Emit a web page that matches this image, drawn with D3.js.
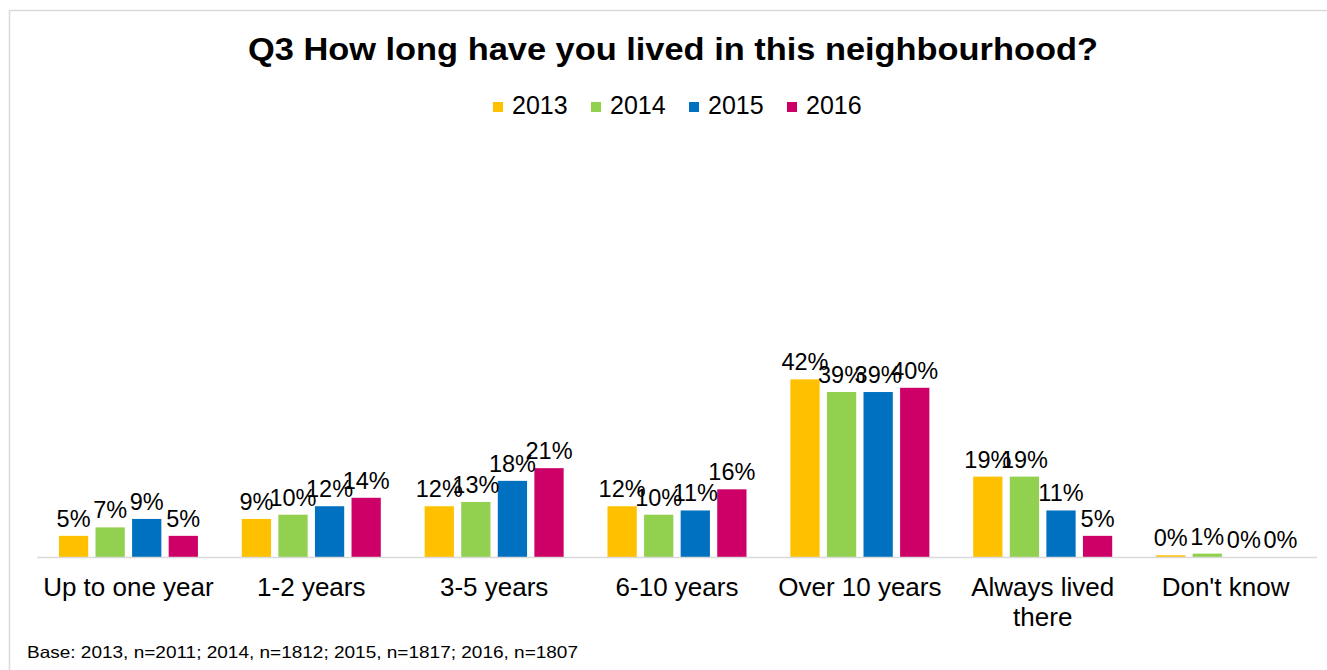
<!DOCTYPE html>
<html>
<head>
<meta charset="utf-8">
<script src="https://cdn.jsdelivr.net/npm/d3@7"></script>
<style>
  html, body { margin: 0; padding: 0; background: #fff; }
  svg { display: block; font-family: "Liberation Sans", Arial, sans-serif; }
</style>
</head>
<body>
<svg id="chart" width="1327" height="670"></svg>
<script>
const categories = ["Up to one year", "1-2 years", "3-5 years", "6-10 years", "Over 10 years", "Always lived there", "Don't know"];
const seriesNames = ["2013", "2014", "2015", "2016"];
const values2013 = [5, 9, 12, 12, 42, 19, 0.4];
const values2014 = [7, 10, 13, 10, 39, 19, 0.8];
const values2015 = [9, 12, 18, 11, 39, 11, 0];
const values2016 = [5, 14, 21, 16, 40, 5, 0];
const colors = ["#FFC000", "#92D050", "#0070C0", "#CC0066"];
const titleText = "Q3 How long have you lived in this neighbourhood?";
const footnote = "Base: 2013, n=2011; 2014, n=1812; 2015, n=1817; 2016, n=1807";

const seriesValues = [values2013, values2014, values2015, values2016];
const svg = d3.select("#chart");

// frame
svg.append("path").attr("d", "M9.5,670 V10.5 H1327").attr("fill", "none").attr("stroke", "#d9d9d9").attr("stroke-width", 1.5);

const left = 37, right = 1317, baseY = 557, topY = 134;
const x0 = d3.scaleBand().domain(categories).range([left, right]).padding(0);
const groupW = 139;
const x1 = d3.scaleBand().domain(seriesNames).range([0, groupW]).paddingInner(0.2).paddingOuter(0);
const y = d3.scaleLinear().domain([0, 100]).range([baseY, topY]);

// title
svg.append("text").attr("x", 248).attr("y", 60).attr("font-weight", "bold").attr("font-size", 31)
  .attr("textLength", 850).attr("lengthAdjust", "spacingAndGlyphs").attr("fill", "#000").text(titleText);

// legend
const legend = svg.append("g");
const legX0 = 493, legStep = 98;
seriesNames.forEach((s, i) => {
  const g = legend.append("g").attr("transform", `translate(${legX0 + i * legStep},0)`);
  g.append("rect").attr("x", 0).attr("y", 102).attr("width", 10).attr("height", 10).attr("fill", colors[i]);
  g.append("text").attr("x", 19).attr("y", 114).attr("font-size", 25).attr("fill", "#000").text(s);
});

// bars
const groups = svg.append("g").selectAll("g").data(categories).join("g")
  .attr("transform", d => `translate(${x0(d) + (x0.bandwidth() - groupW) / 2},0)`);

groups.each(function(cat, ci) {
  const g = d3.select(this);
  const data = seriesNames.map((s, si) => ({ s, si, v: seriesValues[si][ci] }));
  g.selectAll("rect").data(data).join("rect")
    .attr("x", d => x1(d.s)).attr("width", x1.bandwidth())
    .attr("y", d => y(d.v)).attr("height", d => baseY - y(d.v))
    .attr("fill", d => colors[d.si]);
  g.selectAll("text").data(data).join("text")
    .attr("x", d => x1(d.s) + x1.bandwidth() / 2)
    .attr("y", d => y(d.v) - 9)
    .attr("text-anchor", "middle").attr("font-size", 23.5).attr("fill", "#000")
    .text(d => Math.round(d.v) + "%");
});

// axis baseline
svg.append("line").attr("x1", left).attr("x2", right).attr("y1", baseY + 0.5).attr("y2", baseY + 0.5)
  .attr("stroke", "#d9d9d9").attr("stroke-width", 1.5);

// category labels
const catLines = { "Always lived there": ["Always lived", "there"] };
categories.forEach(c => {
  const lines = catLines[c] || [c];
  const t = svg.append("text").attr("text-anchor", "middle").attr("font-size", 26).attr("fill", "#000");
  lines.forEach((ln, li) => {
    t.append("tspan").attr("x", x0(c) + x0.bandwidth() / 2).attr("y", 596 + li * 30).text(ln);
  });
});

// footnote
svg.append("text").attr("x", 27).attr("y", 658).attr("font-size", 16.5)
  .attr("textLength", 551).attr("lengthAdjust", "spacingAndGlyphs").attr("fill", "#000").text(footnote);
</script>
</body>
</html>
